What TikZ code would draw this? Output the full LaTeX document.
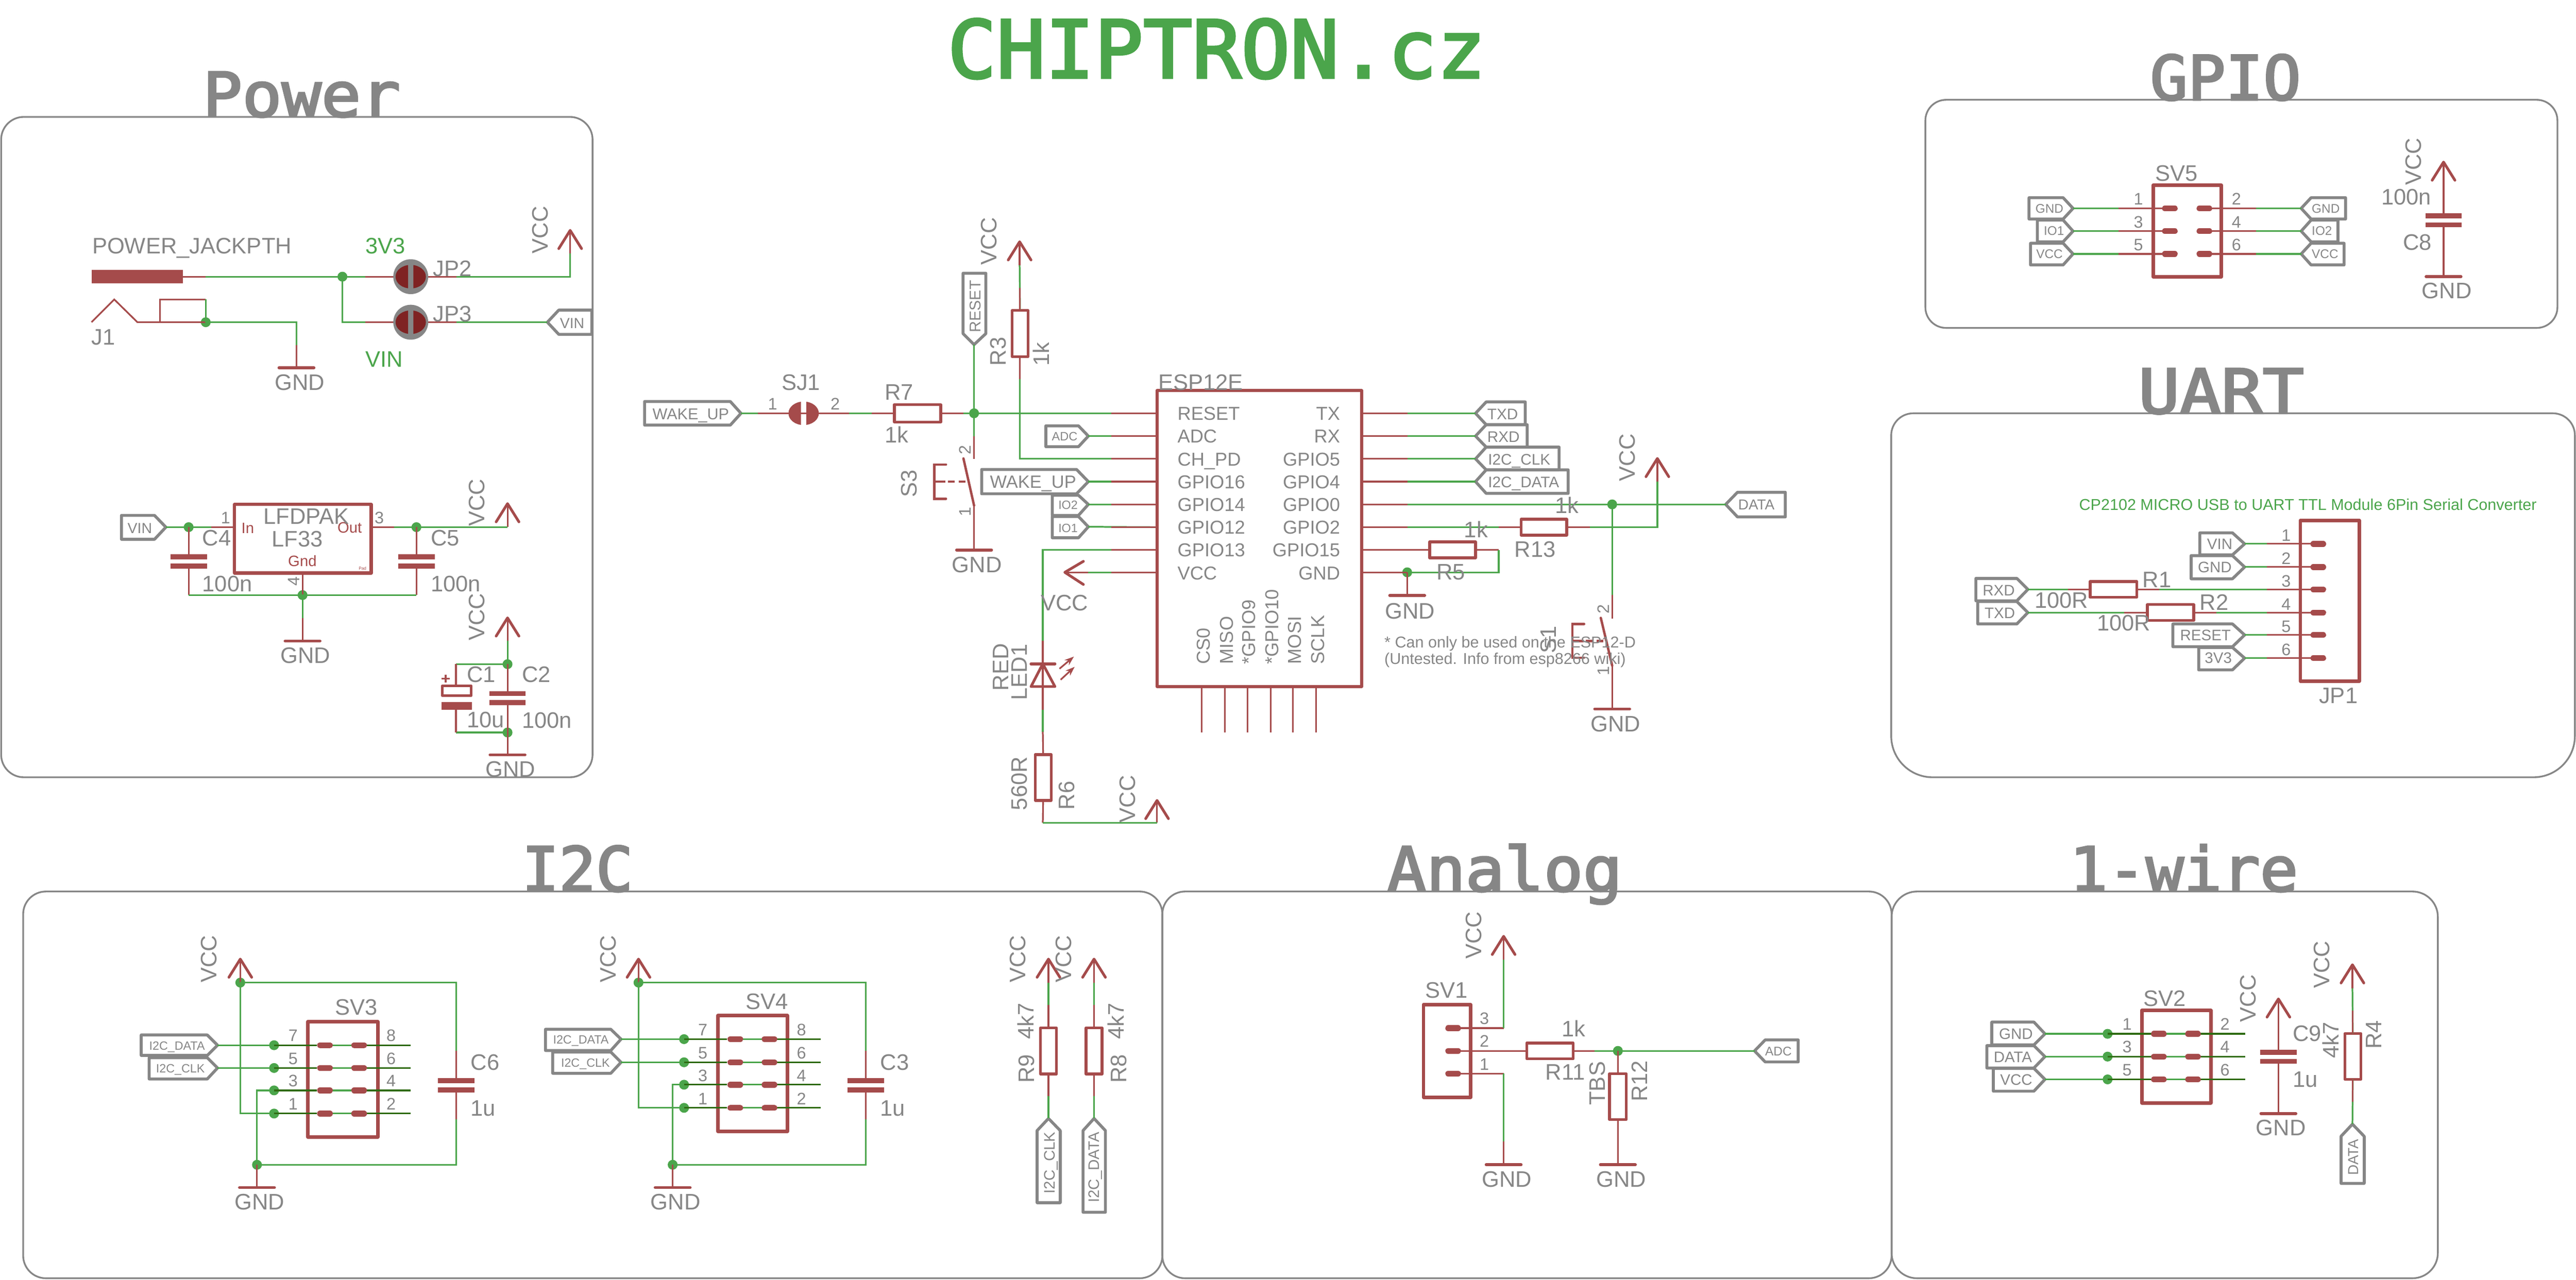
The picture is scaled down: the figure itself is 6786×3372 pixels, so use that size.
\documentclass[tikz,border=0pt]{standalone}
\usepackage{fontspec}
\setmainfont{Liberation Sans}
\newfontfamily\ttlfont[FakeBold=3]{DejaVu Sans Mono}
\usetikzlibrary{arrows.meta}
\definecolor{ered}{HTML}{A54B4B}
\definecolor{egreen}{HTML}{4BA54B}
\definecolor{egray}{HTML}{868686}
\definecolor{edark}{HTML}{2F6B12}
\definecolor{ejump}{HTML}{7F2323}
\newcounter{lbn}
\tikzset{
  net/.style={draw=egreen,line width=1.25pt},
  pin/.style={draw=ered,line width=1.25pt},
  darkl/.style={draw=edark,line width=1.25pt},
  sym/.style={draw=ered,line width=2.4pt,line join=round,line cap=round},
  res/.style={draw=ered,line width=2.1pt,line join=round},
  vst/.style={draw=ered,line width=2pt,line cap=round,line join=round},
  swst/.style={draw=ered,line width=1.8pt,line cap=round},
  tagst/.style={draw=egray,line width=2.2pt,line join=round},
  panel/.style={draw=egray,line width=1.3pt},
  padst/.style={draw=ered,line width=4.4pt,line cap=round},
  lbl/.style={anchor=base west,inner sep=0pt,outer sep=0pt,text=egray,font=\fontsize{16.8}{18}\selectfont},
  lblr/.style={lbl,rotate=90},
  dg/.style={lbl,font=\fontsize{12.5}{14}\selectfont},
  dgr/.style={dg,rotate=90},
  espl/.style={lbl,font=\fontsize{14}{16}\selectfont},
  espr/.style={espl,anchor=base east},
  esprot/.style={espl,rotate=90},
  note/.style={lbl,font=\fontsize{11.8}{13}\selectfont},
  grn/.style={lbl,text=egreen},
  redt/.style={lbl,text=ered,font=\fontsize{11.3}{13}\selectfont},
  tg/.style={lbl,font=\fontsize{#1}{#1}\selectfont},
  tgr/.style={lbl,rotate=90,font=\fontsize{#1}{#1}\selectfont},
  ttl/.style={lbl,font=\ttlfont\fontsize{46}{50}\selectfont},
}
\newcommand{\Lb}[4][lbl]{\stepcounter{lbn}\node[#1] (t\arabic{lbn}) at (#2,#3) {#4};}
% name, base x, tip x, shoulder x, y top, y bottom, y mid
\newcommand{\Tag}[7]{\coordinate (#1) at (#3,#7);\draw[tagst] (#2,#5) -- (#4,#5) -- (#3,#7) -- (#4,#6) -- (#2,#6) -- cycle;}
% name, base y, tip y, shoulder y, x left, x right, x mid
\newcommand{\TagV}[7]{\coordinate (#1) at (#7,#3);\draw[tagst] (#5,#2) -- (#5,#4) -- (#7,#3) -- (#6,#4) -- (#6,#2) -- cycle;}
% name, x, tip y, foot y
\newcommand{\Vcc}[4]{\coordinate (#1tip) at (#2,#3);\coordinate (#1) at (#2,#4);\draw[pin] (#1tip) -- (#1);\draw[vst] (#2-30,#3+48) -- (#1tip) -- (#2+30,#3+48);}
% name, x, top y, bar y
\newcommand{\Gnd}[4]{\coordinate (#1) at (#2,#3);\coordinate (#1bar) at (#2,#4);\draw[pin] (#1) -- (#1bar);\draw[vst,line width=2.2pt] (#2-46,#4) -- (#2+46,#4);}
% name, x, plate top y
\newcommand{\Capc}[3]{\coordinate (#1A) at (#2,#3);\coordinate (#1B) at (#2,#3+37);\fill[ered] (#2-48,#3) rectangle (#2+48,#3+13);\fill[ered] (#2-48,#3+24) rectangle (#2+48,#3+37);}
% name, x1, x2, y, half height
\newcommand{\ResH}[5]{\coordinate (#1A) at (#2,#4);\coordinate (#1B) at (#3,#4);\draw[res] (#2,#4-#5) rectangle (#3,#4+#5);}
% name, x, half width, y1, y2
\newcommand{\ResV}[5]{\coordinate (#1A) at (#2,#4);\coordinate (#1B) at (#2,#5);\draw[res] (#2-#3,#4) rectangle (#2+#3,#5);}
\newcommand{\Jun}[3]{\coordinate (#1) at (#2,#3);\fill[egreen] (#1) circle[radius=13];}
\newcommand{\Pad}[2]{\draw[padst] (#1-13,#2) -- (#1+13,#2);}
% centre coordinate name, gap colour, ring?
\newcommand{\Jump}[3]{\begin{scope}[shift={(#1)}]
  \ifnum#3=1 \fill[egray] (0,0) circle[radius=46];\fi
  \begin{scope}\clip (-60,-60) rectangle (-7,60);\fill[#2] (0,0) ellipse[x radius=40,y radius=31];\end{scope}
  \begin{scope}\clip (7,-60) rectangle (60,60);\fill[#2] (0,0) ellipse[x radius=40,y radius=31];\end{scope}
\end{scope}}
% lever x top,y top,x bot,y bot, bracket x, y top, y bottom, y mid, lever x at mid
\newcommand{\Sw}[9]{\draw[swst] (#1,#2) -- (#3,#4);\draw[swst] (#5+31,#6) -- (#5,#6) -- (#5,#7) -- (#5+31,#7);\draw[swst,line cap=butt,dash pattern=on 22pt off 0pt] (#5,#8) -- (#5+30,#8);\draw[swst,line cap=butt,dash pattern=on 5pt off 3pt] (#5+36,#8) -- (#9,#8);}
\begin{document}
\begin{tikzpicture}[x=0.01cm,y=-0.01cm]
\path[fill=white,use as bounding box] (0,0) rectangle (6786,3372);
% ============ titles
\node[ttl,text=egreen,font=\ttlfont\fontsize{59.7}{62}\selectfont] (titleMain) at (2496,205) {\scalebox{1.02}[1]{CHIPTRON.cz}};
\node[ttl] (titlePower) at (534,307) {\scalebox{1.07}[1]{Power}};
\node[ttl] (titleGPIO) at (5664,263) {\scalebox{1.02}[1]{GPIO}};
\node[ttl] (titleUART) at (5633,1089) {\scalebox{1.12}[1]{UART}};
\node[ttl] (titleI2C) at (1375,2348) {\scalebox{1}[1]{I2C}};
\node[ttl] (titleAnalog) at (3654,2348) {\scalebox{1.06}[1]{Analog}};
\node[ttl] (titleWire) at (5452,2348) {\scalebox{1.03}[1]{1-wire}};
% ============ panels
\draw[panel,rounded corners=17pt] (3,308) rectangle (1561,2048);
\draw[panel,rounded corners=15.5pt] (5072,263) rectangle (6737,864);
\draw[panel] (4982,1500) [rounded corners=16.5pt] -- (4982,1089) -- (6783,1089) -- (6783,1500) [rounded corners=31pt] -- (6783,2048) -- (4982,2048) -- cycle;
\draw[panel,rounded corners=17pt] (61,2349) rectangle (3062,3368);
\draw[panel,rounded corners=17pt] (3062,2349) rectangle (4983,3368);
\draw[panel,rounded corners=19pt] (4983,2349) rectangle (6422,3368);
% ============ POWER: jack
\fill[ered] (242,711) rectangle (482,747);
\coordinate (jack) at (482,729);
\Jun{ja}{902}{729}
\coordinate (jp2) at (1082,729);
\coordinate (jp3) at (1082,849);
\Vcc{vp1}{1502}{607}{668}
\Tag{tagVINp}{1559}{1442}{1472}{817}{881}{849}
\draw[net] (jack) -- (ja);
\draw[pin] (jack) -- ++(60,0);
\draw[net] (ja) -- (jp2);
\draw[pin] (jp2) -- ++(-120,0);
\draw[net] (jp2) -| (vp1);
\draw[pin] (jp2) -- ++(121,0);
\draw[net] (ja) |- (jp3);
\draw[pin] (jp3) -- ++(-120,0);
\draw[net] (jp3) -- (tagVINp);
\draw[pin] (jp3) -- ++(121,0);
\Jump{jp2}{ejump}{1}
\Jump{jp3}{ejump}{1}
\Lb{243}{668}{POWER\_JACKPTH}
\Lb[grn]{963}{668}{3V3}
\Lb[grn]{963}{967}{VIN}
\Lb{1141}{728}{JP2}
\Lb{1141}{848}{JP3}
\Lb[lblr]{1444}{668}{VCC}
\Lb[tg=11]{1475}{865}{VIN}
\Lb{241}{909}{J1}
\Jun{jb}{542}{849}
\coordinate (jtop) at (542,789);
\coordinate (jb0) at (362,849);
\draw[pin] (241,849) -- (301,789) -- (jb0) -- (jb);
\draw[pin] (421,849) -- (421,789) -- (jtop);
\draw[net] (jtop) -- (jb);
\Gnd{gp1}{781}{909}{969}
\draw[net] (jb) -| (gp1);
\Lb{724}{1028}{GND}
% LF33
\Jun{jc}{497}{1389}
\Jun{jd}{1097}{1389}
\Jun{je}{797}{1568}
\coordinate (uIn) at (618,1389);
\coordinate (uOut) at (978,1389);
\coordinate (uGnd) at (797,1510);
\Tag{tagVINr}{320}{437}{407}{1358}{1421}{1389}
\Lb[tg=11]{336}{1405}{VIN}
\Vcc{vp2}{1337}{1327}{1389}
\draw[net] (tagVINr) -- (uIn);
\draw[pin] (uIn) -- ++(-62,0);
\draw[net] (uOut) -- (vp2);
\draw[pin] (uOut) -- ++(60,0);
\draw[sym] (618,1329) rectangle (978,1510);
\draw[pin] (uGnd) -- (je);
\Capc{c4}{497}{1461}
\Capc{c5}{1097}{1461}
\coordinate (c4f) at (497,1568);
\coordinate (c5f) at (1097,1568);
\draw[pin] (jc) -- (c4A);\draw[pin] (c4B) -- (c4f);
\draw[pin] (jd) -- (c5A);\draw[pin] (c5B) -- (c5f);
\draw[net] (c4f) -- (c5f);
\Gnd{gp2}{797}{1628}{1689}
\draw[net] (je) -- (gp2);
\Lb[dg]{582}{1380}{1}
\Lb[dg]{987}{1380}{3}
\Lb[dgr]{789}{1544}{4}
\Lb[redt]{636}{1405}{In}
\Lb[redt]{889}{1404}{Out}
\Lb[redt]{759}{1492}{Gnd}
\Lb[redt,font=\fontsize{3.2}{4}\selectfont]{945}{1502}{Pad}
\Lb{694}{1381}{LFDPAK}
\Lb{716}{1441}{LF33}
\Lb{533}{1438}{C4}
\Lb{1135}{1438}{C5}
\Lb{533}{1559}{100n}
\Lb{1135}{1559}{100n}
\Lb[lblr]{1277}{1387}{VCC}
\Lb{739}{1747}{GND}
% C1 C2
\Vcc{vp3}{1337}{1628}{1688}
\Jun{jf}{1337}{1750}
\Jun{jg}{1337}{1930}
\draw[net] (vp3) -- (jf);
\coordinate (c1t) at (1201,1750);
\coordinate (c1b) at (1201,1930);
\draw[net] (jf) -- (c1t);
\draw[net] (c1b) -- (jg);
\draw[pin] (c1t) -- (1201,1807);
\draw[pin] (1201,1850) -- (c1b);
\draw[res] (1165,1807) rectangle (1241,1833);
\fill[ered] (1163,1850) rectangle (1243,1870);
\draw[pin] (1163,1788) -- (1185,1788);
\draw[pin] (1174,1778) -- (1174,1798);
\Capc{c2}{1337}{1821}
\draw[pin] (jf) -- (c2A);
\draw[pin] (c2B) -- (jg);
\Gnd{gp3}{1337}{1930}{1989}
\Lb{1230}{1797}{C1}
\Lb{1230}{1917}{10u}
\Lb{1375}{1798}{C2}
\Lb{1375}{1919}{100n}
\Lb[lblr]{1277}{1688}{VCC}
\Lb{1279}{2047}{GND}
% ============ ESP12E
\foreach \i/\y in {1/1089,2/1149,3/1209,4/1269,5/1329,6/1389,7/1449,8/1508}{
  \coordinate (espL\i) at (3048,\y);
  \coordinate (espR\i) at (3587,\y);
}
\Jun{jh}{2566}{1089}
\Tag{tagWake}{1698}{1952}{1924}{1058}{1120}{1089}
\Lb[tg=11.8]{1719}{1105}{WAKE\_UP}
\coordinate (sj1) at (2117,1089);
\ResH{r7}{2356}{2478}{1089}{23}
\draw[net] (tagWake) -- (sj1);
\draw[pin] (sj1) -- ++(-120,0);
\draw[pin] (sj1) -- ++(119,0);
\draw[net] (sj1) ++(119,0) -- (r7A);
\draw[pin] (r7A) -- ++(-59,0);
\draw[net] (r7B) -- (jh);
\draw[pin] (r7B) -- ++(60,0);
\draw[net] (jh) -- (espL1);
\draw[pin] (espL1) -- ++(-120,0);
\Jump{sj1}{ered}{0}
\Lb[dg]{2023}{1079}{1}
\Lb[dg]{2188}{1079}{2}
\Lb{2059}{1028}{SJ1}
\Lb{2331}{1054}{R7}
\Lb{2331}{1166}{1k}
\TagV{tagRes}{720}{908}{879}{2537}{2597}{2566}
\Lb[tgr=11.7]{2583}{876}{RESET}
\draw[net] (tagRes) -- (jh);
\draw[net] (jh) -- ++(0,60);
\draw[pin] (2566,1149) -- (2566,1209);
\Sw{2538}{1208}{2566}{1332}{2461}{1224}{1314}{1269}{2552}
\Gnd{gs3}{2566}{1325}{1449}
\Lb[lblr]{2415}{1311}{S3}
\Lb[dgr]{2557}{1198}{2}
\Lb[dgr]{2557}{1361}{1}
\Lb{2508}{1508}{GND}
% R3
\Vcc{vr3}{2686}{637}{699}
\ResV{r3}{2687}{21}{818}{940}
\draw[net] (vr3) -- (r3A);
\draw[pin] (r3A) -- ++(0,-60);
\draw[net] (r3B) |- (espL3);
\draw[pin] (r3B) -- ++(0,59);
\draw[pin] (espL3) -- ++(-120,0);
\Lb[lblr]{2626}{698}{VCC}
\Lb[lblr]{2650}{964}{R3}
\Lb[lblr]{2764}{964}{1k}
% left tags
\Tag{tagADC}{2755}{2867}{2841}{1122}{1177}{1149}
\Lb[tg=9.1]{2771}{1161}{ADC}
\Tag{tagWake2}{2586}{2867}{2836}{1237}{1301}{1269}
\Lb[tg=13.3]{2608}{1286}{WAKE\_UP}
\Tag{tagIO2}{2772}{2867}{2841}{1305}{1358}{1329}
\Lb[tg=9]{2788}{1342}{IO2}
\Tag{tagIO1}{2772}{2867}{2841}{1361}{1417}{1388}
\Lb[tg=9]{2788}{1402}{IO1}
\draw[net] (tagADC) -- (espL2);\draw[pin] (espL2) -- ++(-121,0);
\draw[net] (tagWake2) -- (espL4);\draw[pin] (espL4) -- ++(-121,0);
\draw[net] (tagIO2) -- (espL5);\draw[pin] (espL5) -- ++(-121,0);
\draw[net] (tagIO1) -- (espL6);\draw[pin] (espL6) -- ++(-121,0);
% box
\draw[sym] (3048,1029) rectangle (3587,1809);
\Lb{3051}{1028}{ESP12E}
\foreach \i/\y/\a/\b in {1/1107/RESET/TX,2/1167/ADC/RX,3/1227/CH\_PD/GPIO5,4/1287/GPIO16/GPIO4,5/1347/GPIO14/GPIO0,6/1407/GPIO12/GPIO2,7/1467/GPIO13/GPIO15,8/1527/VCC/GND}{
  \node[espl] (espLt\i) at (3102,\y) {\a};
  \node[espr] (espRt\i) at (3530,\y) {\b};
}
\foreach \x/\t [count=\n] in {3188/CS0,3248/MISO,3307/*GPIO9,3368/*GPIO10,3427/MOSI,3488/SCLK}{
  \node[esprot] (espB\n) at (\x,1750) {\t};
}
\foreach \x [count=\n] in {3166,3227,3286,3347,3406,3467}{
  \coordinate (bp\n) at (\x,1809);
  \draw[pin] (bp\n) -- ++(0,121);
}
% right tags
\Tag{tagTXD}{4018}{3887}{3915}{1059}{1119}{1089}
\Lb[tg=11.5]{3918}{1105}{TXD}
\Tag{tagRXD}{4023}{3887}{3915}{1119}{1178}{1149}
\Lb[tg=11.5]{3918}{1165}{RXD}
\Tag{tagCLK}{4107}{3887}{3915}{1178}{1238}{1209}
\Lb[tg=11.5]{3920}{1225}{I2C\_CLK}
\Tag{tagDAT}{4131}{3887}{3915}{1238}{1300}{1269}
\Lb[tg=11.5]{3920}{1285}{I2C\_DATA}
\draw[net] (espR1) -- (tagTXD);\draw[pin] (espR1) -- ++(121,0);
\draw[net] (espR2) -- (tagRXD);\draw[pin] (espR2) -- ++(121,0);
\draw[net] (espR3) -- (tagCLK);\draw[pin] (espR3) -- ++(121,0);
\draw[net] (espR4) -- (tagDAT);\draw[pin] (espR4) -- ++(121,0);
% GPIO0 / DATA
\Jun{jk}{4247}{1329}
\Tag{tagDATA}{4703}{4546}{4577}{1297}{1362}{1329}
\Lb[tg=10.8]{4579}{1343}{DATA}
\draw[net] (espR5) -- (tagDATA);\draw[pin] (espR5) -- ++(121,0);
% GPIO2 / R13
\ResH{r13}{4007}{4127}{1389}{21}
\Vcc{vr13}{4366}{1208}{1269}
\draw[net] (espR6) -- (r13A);\draw[pin] (espR6) -- ++(121,0);\draw[pin] (r13A) -- ++(-59,0);
\draw[net] (r13B) -| (vr13);\draw[pin] (r13B) -- ++(61,0);
\Lb{4097}{1352}{1k}
\Lb{3990}{1468}{R13}
\Lb[lblr]{4307}{1268}{VCC}
% GPIO15 / R5
\ResH{r5}{3766}{3887}{1449}{21}
\Jun{jm}{3707}{1508}
\coordinate (r5e) at (3948,1449);
\draw[pin] (espR7) -- (r5A);
\draw[pin] (r5B) -- (r5e);
\draw[net] (r5e) |- (jm);
\draw[pin] (espR8) -- (jm);
\Gnd{gr5}{3707}{1508}{1569}
\Lb{3857}{1416}{1k}
\Lb{3784}{1528}{R5}
\Lb{3649}{1630}{GND}
% S1
\draw[net] (jk) -- ++(0,238);
\draw[pin] (4247,1567) -- (4247,1630);
\Sw{4217}{1628}{4247}{1754}{4142}{1644}{1733}{1689}{4232}
\Gnd{gs1}{4247}{1750}{1868}
\Lb[lblr]{4099}{1721}{S1}
\Lb[dgr]{4239}{1617}{2}
\Lb[dgr]{4239}{1780}{1}
\Lb{4190}{1928}{GND}
\Lb[note]{3647}{1706}{* Can only be used on the ESP12-D}
\Lb[note]{3647}{1750}{(Untested. Info from esp8266 wiki)}
% LED
\coordinate (ledT) at (2747,1688);
\coordinate (ledK) at (2747,1870);
\coordinate (r6up) at (2747,1928);
\ResV{r6}{2748}{21}{1988}{2109}
\coordinate (ledE) at (2747,2168);
\Vcc{vled}{3048}{2109}{2168}
\draw[net] (espL7) -| (ledT);\draw[pin] (espL7) -- ++(-121,0);
\draw[pin] (ledT) -- (ledK);
\draw[net] (ledK) -- (r6up);
\draw[pin] (r6up) -- (r6A);
\draw[pin] (r6B) -- (ledE);
\draw[net] (ledE) -- (vled);
\draw[vst,line cap=butt] (2716,1809) -- (2779,1809) -- (2747,1749) -- cycle;
\draw[vst,line width=2.2pt] (2716,1749) -- (2779,1749);
\draw[pin,-{Stealth[length=7pt,width=5pt]}] (2791,1762) -- (2829,1730);
\draw[pin,-{Stealth[length=7pt,width=5pt]}] (2794,1791) -- (2831,1757);
\Lb[lblr]{2657}{1820}{RED}
\Lb[lblr]{2706}{1845}{LED1}
\Lb[lblr]{2706}{2135}{560R}
\Lb[lblr]{2831}{2134}{R6}
\Lb[lblr]{2991}{2168}{VCC}
% left VCC on ESP
\coordinate (vlTip) at (2805,1508);
\coordinate (vlFoot) at (2867,1508);
\draw[pin] (vlTip) -- (vlFoot);
\draw[vst] (2854,1479) -- (vlTip) -- (2854,1540);
\draw[net] (vlFoot) -- (espL8);\draw[pin] (espL8) -- ++(-121,0);
\Lb{2742}{1609}{VCC}
% ============ GPIO SV5
\draw[sym,line width=2.6pt] (5672,488) rectangle (5852,729);
\foreach \y/\a/\b in {549/1/2,609/3/4,669/5/6}{
  \Pad{5716}{\y}\Pad{5807}{\y}
  \node[dg] (sv5l\a) at (5621,\y-9) {\a};
  \node[dg] (sv5r\b) at (5879,\y-9) {\b};
}
\Lb{5678}{477}{SV5}
\Tag{g1}{5345}{5461}{5435}{521}{577}{549}
\Lb[tg=9.4]{5362}{561}{GND}
\Tag{g3}{5367}{5461}{5435}{580}{637}{609}
\Lb[tg=9.4]{5384}{620}{IO1}
\Tag{g5}{5349}{5461}{5435}{641}{698}{669}
\Lb[tg=9.4]{5364}{680}{VCC}
\Tag{g2}{6179}{6062}{6088}{521}{577}{549}
\Lb[tg=9.4]{6090}{561}{GND}
\Tag{g4}{6159}{6062}{6088}{580}{637}{609}
\Lb[tg=9.4]{6090}{620}{IO2}
\Tag{g6}{6175}{6062}{6088}{641}{698}{669}
\Lb[tg=9.4]{6090}{680}{VCC}
\foreach \n/\y in {1/549,3/609,5/669}{
  \coordinate (pl\n) at (5703,\y);
  \draw[net] (g\n) -- (pl\n);
  \draw[pin] (pl\n) -- ++(-122,0);
}
\foreach \n/\y in {2/549,4/609,6/669}{
  \coordinate (pr\n) at (5820,\y);
  \draw[net] (pr\n) -- (g\n);
  \draw[pin] (pr\n) -- ++(123,0);
}
\Vcc{vc8}{6437}{427}{562}
\Capc{c8}{6437}{562}
\Gnd{gc8}{6437}{599}{729}
\Lb{6380}{787}{GND}
\Lb{6330}{659}{C8}
\Lb{6273}{539}{100n}
\Lb[lblr]{6378}{488}{VCC}
% ============ UART
\Lb[grn,font=\fontsize{11.8}{13}\selectfont]{5477}{1344}{CP2102 MICRO USB to UART TTL Module 6Pin Serial Converter}
\draw[sym,line width=2.6pt] (6060,1371) rectangle (6215,1795);
\Lb{6109}{1853}{JP1}
\foreach \n/\y in {1/1433,2/1494,3/1553,4/1614,5/1673,6/1734}{
  \Pad{6107}{\y}
  \coordinate (jpp\n) at (6095,\y);
  \draw[pin] (jpp\n) -- ++(-123,0);
  \node[dg] (jpn\n) at (6010,\y-7) {\n};
}
\Tag{u1}{5795}{5913}{5881}{1404}{1462}{1433}
\Lb[tg=11.4]{5814}{1448}{VIN}
\Tag{u2}{5772}{5913}{5881}{1464}{1525}{1494}
\Lb[tg=11.4]{5790}{1508}{GND}
\Tag{u5}{5724}{5913}{5881}{1644}{1704}{1673}
\Lb[tg=11.4]{5743}{1688}{RESET}
\Tag{u6}{5792}{5913}{5881}{1706}{1765}{1734}
\Lb[tg=11.4]{5808}{1748}{3V3}
\foreach \n in {1,2,5,6}{
  \draw[net] (u\n) -- ++(59,0);
}
\Tag{uR}{5205}{5342}{5313}{1524}{1583}{1553}
\Lb[tg=11.4]{5223}{1569}{RXD}
\Tag{uT}{5210}{5342}{5313}{1585}{1644}{1614}
\Lb[tg=11.4]{5228}{1629}{TXD}
\ResH{r1}{5506}{5629}{1553}{21}
\ResH{r2}{5657}{5779}{1614}{21}
\coordinate (jpe3) at (5972,1553);
\coordinate (jpe4) at (5972,1614);
\draw[net] (uR) -- (r1A);\draw[pin] (r1A) -- ++(-58,0);
\draw[net] (r1B) -- (jpe3);\draw[pin] (r1B) -- ++(59,0);
\draw[net] (uT) -- (r2A);\draw[pin] (r2A) -- ++(-61,0);
\draw[net] (r2B) -- (jpe4);\draw[pin] (r2B) -- ++(59,0);
\Lb{5644}{1548}{R1}
\Lb{5360}{1602}{100R}
\Lb{5795}{1608}{R2}
\Lb{5524}{1662}{100R}
% ============ I2C SV3
\draw[sym,line width=2.6pt] (811,2692) rectangle (995,2996);
\Lb{883}{2675}{SV3}
\Jun{a7}{722}{2754}\Jun{a5}{722}{2814}\Jun{a3}{722}{2873}\Jun{a1}{722}{2934}
\foreach \n/\m/\y in {7/8/2754,5/6/2814,3/4/2873,1/2/2934}{
  \draw[darkl] (a\n) -- ++(113,0);
  \draw[net] (856,\y) -- (946,\y);
  \draw[darkl] (946,\y) -- (1082,\y);
  \Pad{856}{\y}\Pad{946}{\y}
  \node[dg] (s3l\n) at (760,\y-10) {\n};
  \node[dg] (s3r\m) at (1018,\y-10) {\m};
}
\Tag{i1}{372}{573}{546}{2727}{2781}{2754}
\Lb[tg=9]{393}{2766}{I2C\_DATA}
\Tag{i2}{393}{573}{546}{2787}{2843}{2814}
\Lb[tg=9]{411}{2826}{I2C\_CLK}
\draw[net] (i1) -- (a7);
\draw[net] (i2) -- (a5);
\Jun{b1}{633}{2589}
\Vcc{vi1}{633}{2527}{2589}
\Jun{b2}{677}{3069}
\Capc{c6}{1202}{2841}
\coordinate (c6a) at (1202,2768);
\coordinate (c6b) at (1202,2949);
\draw[net] (b1) -| (c6a);
\draw[pin] (c6a) -- (c6A);
\draw[pin] (c6B) -- (c6b);
\draw[net] (c6b) |- (b2);
\draw[net] (b1) |- (a1);
\draw[net] (b2) |- (a3);
\Gnd{gi1}{677}{3069}{3129}
\Lb[lblr]{571}{2589}{VCC}
\Lb{618}{3187}{GND}
\Lb{1240}{2819}{C6}
\Lb{1240}{2940}{1u}
% SV4
\draw[sym,line width=2.6pt] (1891,2676) rectangle (2074,2981);
\Lb{1964}{2660}{SV4}
\Jun{d7}{1802}{2738}\Jun{d5}{1802}{2799}\Jun{d3}{1802}{2858}\Jun{d1}{1802}{2919}
\foreach \n/\m/\y in {7/8/2738,5/6/2799,3/4/2858,1/2/2919}{
  \draw[darkl] (d\n) -- ++(113,0);
  \draw[net] (1937,\y) -- (2027,\y);
  \draw[darkl] (2027,\y) -- (2162,\y);
  \Pad{1937}{\y}\Pad{2027}{\y}
  \node[dg] (s4l\n) at (1839,\y-9) {\n};
  \node[dg] (s4r\m) at (2099,\y-9) {\m};
}
\Tag{i3}{1437}{1636}{1609}{2712}{2768}{2738}
\Lb[tg=9]{1457}{2751}{I2C\_DATA}
\Tag{i4}{1456}{1636}{1609}{2772}{2828}{2799}
\Lb[tg=9]{1478}{2811}{I2C\_CLK}
\draw[net] (i3) -- (d7);
\draw[net] (i4) -- (d5);
\Jun{e1}{1682}{2589}
\Vcc{vi2}{1682}{2527}{2589}
\Jun{e2}{1772}{3069}
\Capc{c3}{2281}{2841}
\coordinate (c3a) at (2281,2768);
\coordinate (c3b) at (2281,2949);
\draw[net] (e1) -| (c3a);
\draw[pin] (c3a) -- (c3A);
\draw[pin] (c3B) -- (c3b);
\draw[net] (c3b) |- (e2);
\draw[net] (e1) |- (d1);
\draw[net] (e2) |- (d3);
\Gnd{gi2}{1772}{3069}{3129}
\Lb[lblr]{1622}{2589}{VCC}
\Lb{1714}{3187}{GND}
\Lb{2319}{2819}{C3}
\Lb{2319}{2940}{1u}
% R9 R8
\Vcc{v9}{2762}{2527}{2589}
\ResV{r9}{2762}{21}{2708}{2830}
\TagV{t9}{3169}{2947}{2979}{2732}{2793}{2762}
\draw[net] (v9) -- (r9A);\draw[pin] (r9A) -- ++(0,-60);
\draw[net] (r9B) -- (t9);\draw[pin] (r9B) -- ++(0,58);
\Vcc{v8}{2882}{2527}{2589}
\ResV{r8}{2882}{21}{2708}{2830}
\TagV{t8}{3194}{2947}{2979}{2853}{2912}{2882}
\draw[net] (v8) -- (r8A);\draw[pin] (r8A) -- ++(0,-60);
\draw[net] (r8B) -- (t8);\draw[pin] (r8B) -- ++(0,58);
\Lb[tgr=11.4]{2779}{3145}{I2C\_CLK}
\Lb[tgr=11.4]{2896}{3169}{I2C\_DATA}
\Lb[lblr]{2701}{2589}{VCC}
\Lb[lblr]{2822}{2589}{VCC}
\Lb[lblr]{2723}{2738}{4k7}
\Lb[lblr]{2961}{2738}{4k7}
\Lb[lblr]{2725}{2854}{R9}
\Lb[lblr]{2967}{2854}{R8}
% ============ Analog
\draw[sym,line width=2.6pt] (3750,2647) rectangle (3874,2891);
\Lb{3755}{2630}{SV1}
\foreach \n/\y in {3/2709,2/2769,1/2829}{
  \Pad{3828}{\y}
  \coordinate (sv1p\n) at (3840,\y);
  \node[dg] (sv1n\n) at (3898,\y-10) {\n};
}
\Vcc{va}{3961}{2467}{2529}
\Gnd{ga1}{3961}{3007}{3069}
\coordinate (sv1e3) at (3961,2709);
\coordinate (sv1e1) at (3961,2829);
\draw[pin] (sv1p3) -- (sv1e3);
\draw[net] (sv1e3) -- (va);
\draw[pin] (sv1p1) -- (sv1e1);
\draw[net] (sv1e1) -- (ga1);
\ResH{r11}{4022}{4144}{2769}{21}
\draw[pin] (sv1p2) -- (r11A);
\Jun{ja2}{4262}{2769}
\Tag{tADC}{4737}{4622}{4650}{2740}{2798}{2769}
\Lb[tg=9.4]{4650}{2781}{ADC}
\draw[net] (r11B) -- (tADC);\draw[pin] (r11B) -- ++(57,0);
\ResV{r12}{4262}{22}{2829}{2950}
\Gnd{ga2}{4262}{2950}{3069}
\draw[pin] (ja2) -- (r12A);
\Lb[lblr]{3902}{2527}{VCC}
\Lb{4114}{2732}{1k}
\Lb{4071}{2846}{R11}
\Lb[lblr]{4228}{2912}{TBS}
\Lb[lblr]{4340}{2903}{R12}
\Lb{3904}{3128}{GND}
\Lb{4205}{3128}{GND}
% ============ 1-wire
\draw[sym,line width=2.6pt] (5642,2662) rectangle (5824,2906);
\Lb{5647}{2651}{SV2}
\Jun{w1}{5552}{2724}\Jun{w3}{5552}{2784}\Jun{w5}{5552}{2844}
\foreach \n/\m/\y in {1/2/2724,3/4/2784,5/6/2844}{
  \draw[darkl] (w\n) -- ++(135,0);
  \draw[net] (5687,\y) -- (5777,\y);
  \draw[darkl] (5777,\y) -- (5914,\y);
  \Pad{5687}{\y}\Pad{5777}{\y}
  \node[dg] (s2l\n) at (5591,\y-10) {\n};
  \node[dg] (s2r\m) at (5849,\y-10) {\m};
}
\Tag{k1}{5247}{5387}{5358}{2693}{2753}{2724}
\Lb[tg=11.4]{5266}{2738}{GND}
\Tag{k3}{5234}{5387}{5358}{2755}{2814}{2784}
\Lb[tg=11.4]{5252}{2799}{DATA}
\Tag{k5}{5251}{5387}{5358}{2815}{2875}{2844}
\Lb[tg=11.4]{5269}{2859}{VCC}
\draw[net] (k1) -- (w1);
\draw[net] (k3) -- (w3);
\draw[net] (k5) -- (w5);
\Vcc{vc9}{6002}{2632}{2766}
\Capc{c9}{6002}{2766}
\Gnd{gc9}{6002}{2803}{2934}
\Lb{5943}{2992}{GND}
\Lb[lblr]{5942}{2693}{VCC}
\Lb{6040}{2744}{C9}
\Lb{6040}{2865}{1u}
\Vcc{vr4}{6197}{2542}{2604}
\ResV{r4}{6198}{21}{2723}{2844}
\TagV{tr4}{3118}{2962}{2994}{6167}{6228}{6197}
\draw[net] (vr4) -- (r4A);\draw[pin] (r4A) -- ++(0,-60);
\draw[net] (r4B) -- (tr4);\draw[pin] (r4B) -- ++(0,59);
\Lb[tgr=10.8]{6213}{3097}{DATA}
\Lb[lblr]{6137}{2604}{VCC}
\Lb[lblr]{6161}{2788}{4k7}
\Lb[lblr]{6274}{2764}{R4}
\end{tikzpicture}
\end{document}
